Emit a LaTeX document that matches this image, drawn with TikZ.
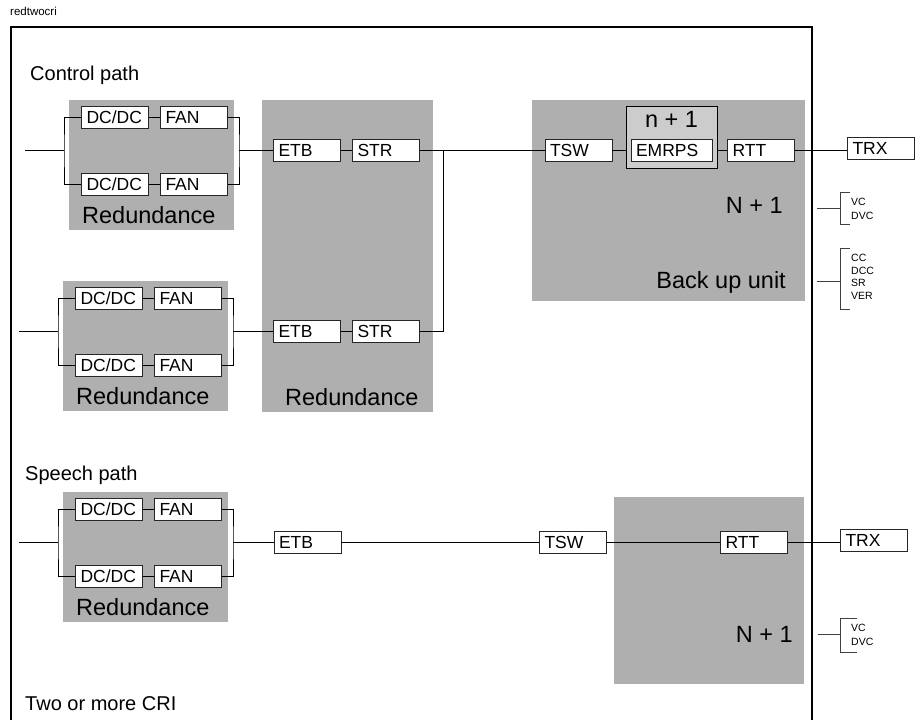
\documentclass[tikz,border=0pt]{standalone}
\usepackage{fontspec}
\setmainfont{Liberation Sans}
\usetikzlibrary{positioning}
\newcommand{\boxfont}{\fontsize{17.5}{19}\selectfont}
\newcommand{\bigfont}{\fontsize{23.5}{26}\selectfont}
\newcommand{\pathfont}{\fontsize{20}{23}\selectfont}
\newcommand{\tinyfont}{\fontsize{10.5}{12.5}\selectfont}
\definecolor{grpgray}{RGB}{175,175,175}
\definecolor{innergray}{RGB}{204,204,204}
\tikzset{
  unit/.style={draw=black!85, fill=white, line width=.9pt, minimum height=22pt,
    text width=57pt, inner xsep=5pt, inner ysep=0pt, align=left, font=\boxfont,
    text height=14.5pt, text depth=2.5pt},
  wire/.style={line width=.8pt},
  bracket/.style={line width=.8pt, black!75},
  group/.style={fill=grpgray},
  biglabel/.style={font=\bigfont, inner sep=0pt},
  pathlabel/.style={font=\pathfont, inner sep=0pt, anchor=base west},
  sigs/.style={font=\tinyfont, inner sep=0pt, align=left, anchor=west},
}
\begin{document}
\begin{tikzpicture}[x=1pt,y=-1pt]
\useasboundingbox (0,0) rectangle (916,720);
\node[font=\fontsize{11.5}{13}\selectfont, inner sep=0pt, anchor=base west] (title) at (10,16) {redtwocri};
\draw[line width=1.2pt] (11,720) -- (11,27) -- (812,27) -- (812,720);

\node[pathlabel] (ctrl) at (30,80) {Control path};
\node[pathlabel] (speech) at (25,480) {Speech path};
\node[pathlabel] (cri) at (25,710) {Two or more CRI};

% redundant DC/DC + FAN pairs
\foreach \g/\gx/\gy in {a/69/100, b/63/281, c/63/492} {
  \fill[group] (\gx,\gy) rectangle ++(165,130);
  \node[unit] (dc\g1) at (\gx+46,\gy+17) {DC/DC};
  \node[unit] (fan\g1) at (\gx+125,\gy+17) {FAN};
  \node[unit] (dc\g2) at (\gx+46,\gy+84.5) {DC/DC};
  \node[unit] (fan\g2) at (\gx+125,\gy+84.5) {FAN};
  \node[biglabel, anchor=base west] (red\g) at (\gx+13,\gy+123) {Redundance};
  \coordinate (in\g) at (\gx-44,\gy+50.75);
  \coordinate (jl\g) at (\gx-5,\gy+50.75);
  \coordinate (jr\g) at (\gx+170,\gy+50.75);
  \draw[wire] (dc\g1) -- (fan\g1);
  \draw[wire] (dc\g2) -- (fan\g2);
  \draw[wire] (dc\g1.west) -| (jl\g) |- (dc\g2.west);
  \draw[wire] (fan\g1.east) -| (jr\g) |- (fan\g2.east);
  \draw[wire] (in\g) -- (jl\g);
}

% control path
\fill[group] (262,100) rectangle (433,412);
\node[biglabel, anchor=base west] (redm) at (285,405) {Redundance};
\node[unit] (etb1) at (307,150.75) {ETB};
\node[unit] (str1) at (386,150.75) {STR};
\node[unit] (etb2) at (307,331.75) {ETB};
\node[unit] (str2) at (386,331.75) {STR};
\coordinate (jm) at (443,150.75);

\fill[group] (532,100) rectangle (805,301);
\node[unit] (tsw1) at (578.5,150.75) {TSW};
\node[draw, fill=innergray, line width=.9pt, minimum width=91pt, minimum height=62pt] (nbox) at (671.5,137) {};
\node[biglabel, anchor=north] (nplus) at ([yshift=-6pt]nbox.north) {n + 1};
\node[unit, text width=71pt] (emrps) at (671.5,150.75) {EMRPS};
\node[unit] (rtt1) at (761,150.75) {RTT};
\node[unit] (trx1) at (881,148.5) {TRX};
\node[biglabel, anchor=base east] (nn1) at (783,213) {N + 1};
\node[biglabel, anchor=base east] (backup) at (786,288) {Back up unit};

\draw[wire] (jra) -- (etb1);
\draw[wire] (jrb) -- (etb2);
\draw[wire] (etb1) -- (str1);
\draw[wire] (etb2) -- (str2);
\draw[wire] (str1) -- (tsw1);
\draw[wire] (str2.east) -| (jm);
\draw[wire] (tsw1.east) -- (tsw1.east -| nbox.west);
\draw[wire] (nbox.east |- rtt1) -- (rtt1);
\draw[wire] (rtt1.east) -- (rtt1.east -| trx1.west);

% speech path
\node[unit] (etb3) at (307.5,542.75) {ETB};
\node[unit] (tsw3) at (573,542.75) {TSW};
\fill[group] (614,497) rectangle (804,684);
\node[unit] (rtt3) at (754,542.75) {RTT};
\node[unit] (trx3) at (874,540.5) {TRX};
\node[biglabel, anchor=base east] (nn3) at (793,642) {N + 1};
\draw[wire] (jrc) -- (etb3);
\draw[wire] (etb3) -- (tsw3);
\draw[wire] (tsw3) -- (rtt3);
\draw[wire] (rtt3.east) -- (rtt3.east -| trx3.west);

% signal brackets
\coordinate (b1) at (840,208);
\draw[bracket] (b1) -- ++(-23,0);
\draw[bracket] (850,192) -- (840,192) -- (840,224) -- (850,224);
\node[sigs] (sig1) at (851,209) {VC\\[1pt]DVC};
\coordinate (b2) at (840,281);
\draw[bracket] (b2) -- ++(-23,0);
\draw[bracket] (850,248) -- (840,248) -- (840,309) -- (850,309);
\node[sigs] (sig2) at (851,277) {CC\\DCC\\SR\\VER};
\coordinate (b3) at (840,634);
\draw[bracket] (b3) -- ++(-22,0);
\draw[bracket] (857,618) -- (840,618) -- (840,652) -- (857,652);
\node[sigs] (sig3) at (851,635) {VC\\[1pt]DVC};
\end{tikzpicture}
\end{document}
